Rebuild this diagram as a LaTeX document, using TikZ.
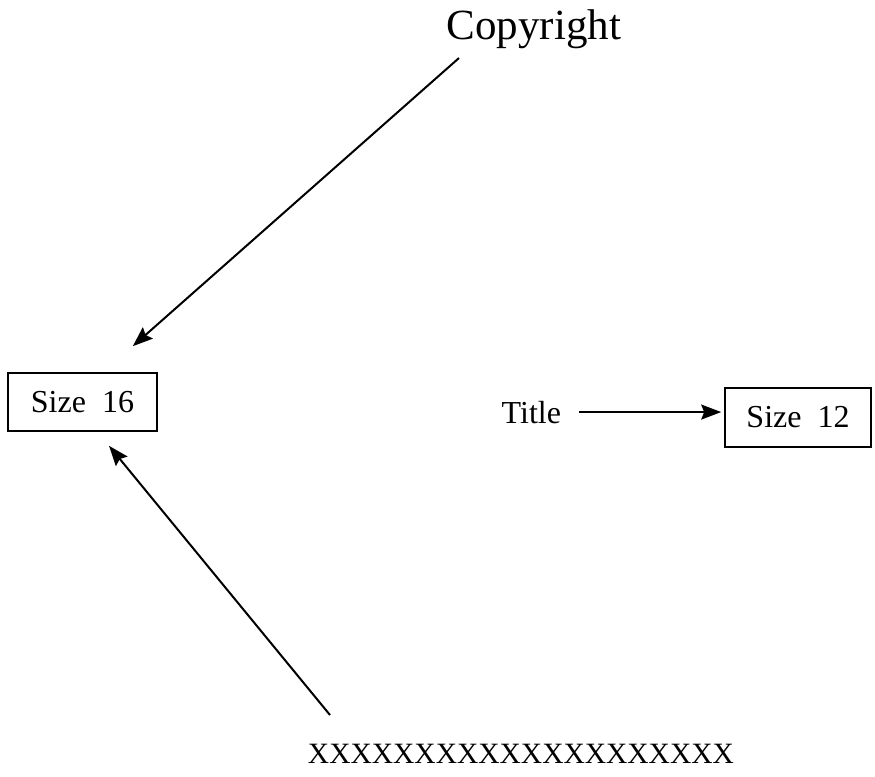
\documentclass[tikz,border=0pt]{standalone}
\usepackage{fontspec}
\setmainfont{Liberation Serif}
\usetikzlibrary{positioning,arrows.meta}

\begin{document}
\begin{tikzpicture}[%
    ->,
    >={Stealth[length=20pt,width=15pt,inset=3pt]}, line width=2pt,
    x=1pt, y=-1pt,
    sizebox/.style={draw, line width=1.6pt, minimum width=149pt,
      minimum height=58pt, inner sep=0pt, font=\fontsize{32}{38}\selectfont},
    plain/.style={inner sep=0pt, font=\fontsize{32}{38}\selectfont}
  ]
    \useasboundingbox (0,0) rectangle (875,776);

    \node[plain, font=\fontsize{43}{50}\selectfont, anchor=base] (copy) at (534,40) {Copyright};

    \node[sizebox] (s16) at (82.5,402) {Size\ \ 16};

    \node[sizebox, minimum width=146pt, minimum height=59pt] (s12) at (798,417.5) {Size\ \ 12};

    \node[plain, anchor=base east] (title) at (562,423) {Title};

    \node[plain, font=\fontsize{29.5}{35}\selectfont, anchor=base] (xs) at (521,763) {XXXXXXXXXXXXXXXXXXXX};

    % free ends of the two long arrows
    \coordinate (c1) at ([xshift=-75pt,yshift=-18pt]copy.base);
    \coordinate (c2) at ([xshift=-191pt,yshift=48pt]xs.base);

          \draw (c1) -- ([xshift=-25pt,yshift=26pt]s16.north east);
          \draw (c2) -- ([xshift=26.5pt,yshift=-14pt]s16.south);
          \draw[shorten <=17pt, shorten >=3pt] (title.east) -- (title.east -| s12.west);
  \end{tikzpicture}
\end{document}
